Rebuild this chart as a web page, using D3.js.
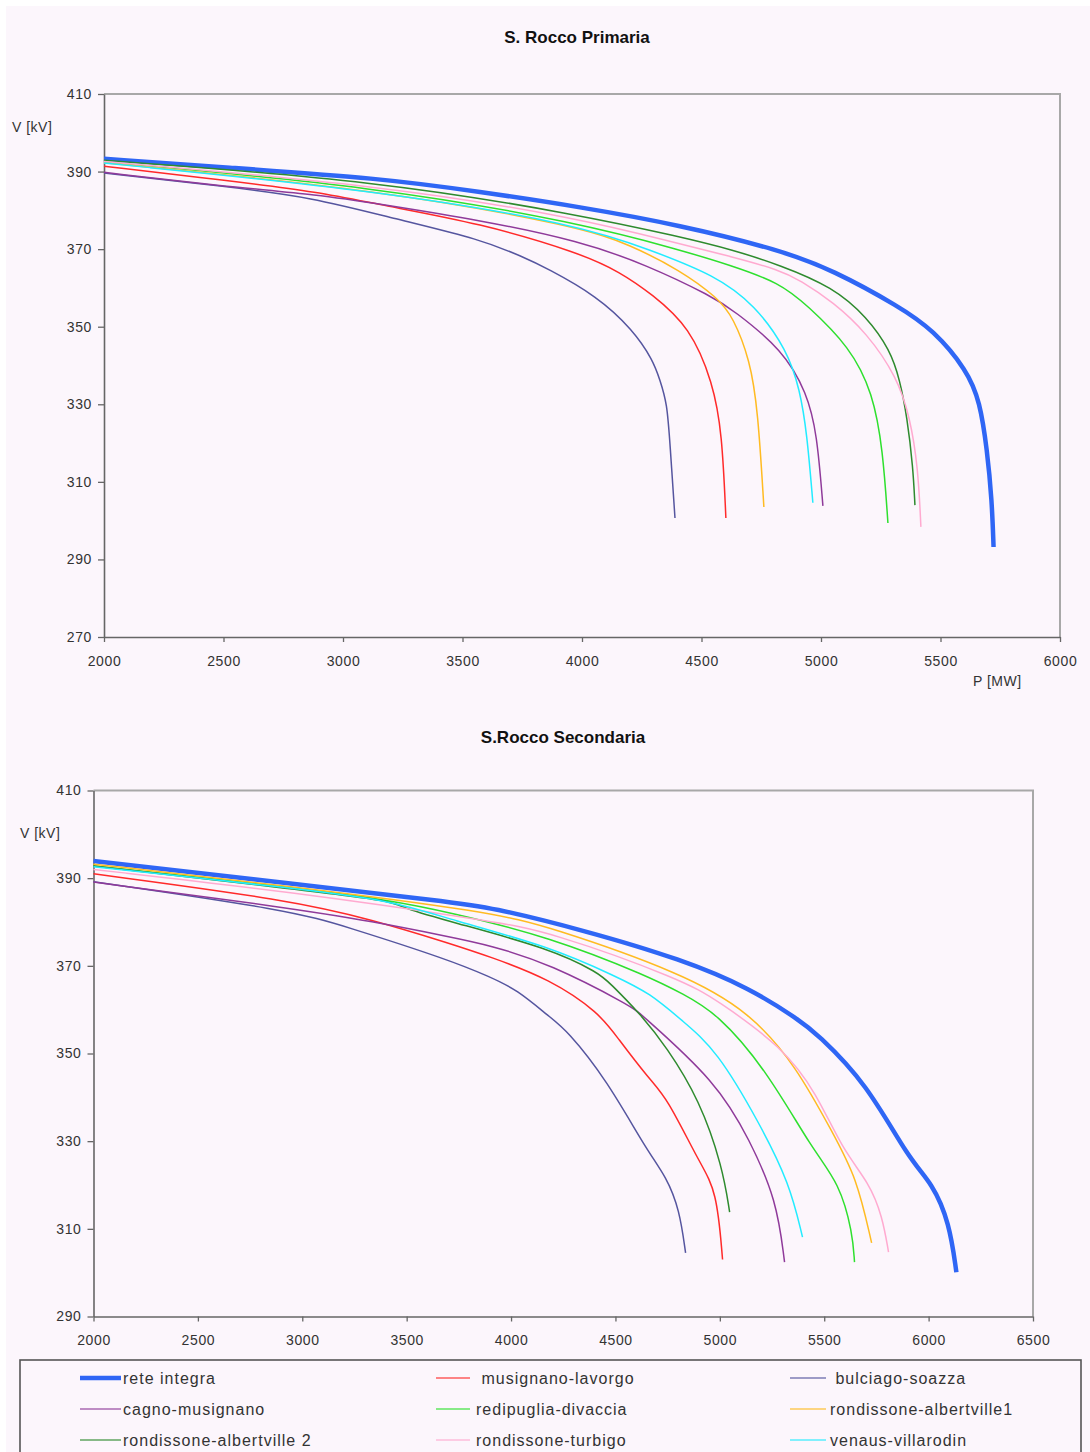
<!DOCTYPE html>
<html><head><meta charset="utf-8">
<script src="https://cdn.jsdelivr.net/npm/d3@7"></script>
<style>
html,body{margin:0;padding:0;background:#fff;}
svg{display:block;}
text{font-family:"Liberation Sans",Arial,sans-serif;}
</style></head><body>
<svg id="chart" width="1090" height="1452"></svg>
<script>
// ---------- DATA ----------
const seriesNames = ["rete integra", " musignano-lavorgo", " bulciago-soazza",
  "cagno-musignano", "redipuglia-divaccia", "rondissone-albertville1",
  "rondissone-albertville 2", "rondissone-turbigo", "venaus-villarodin"];

const xTicksPrimaria = [2000, 2500, 3000, 3500, 4000, 4500, 5000, 5500, 6000];
const yTicksPrimaria = [270, 290, 310, 330, 350, 370, 390, 410];
const xTicksSecondaria = [2000, 2500, 3000, 3500, 4000, 4500, 5000, 5500, 6000, 6500];
const yTicksSecondaria = [290, 310, 330, 350, 370, 390, 410];

// S. Rocco Primaria  [P (MW), V (kV)]
const prim_reteIntegra = [[2000,393.3],[2500,391.1],[3155,388.3],[3573,384.8],[3992,380.9],[4410,376.2],[4828,369.8],[5050,364.6],[5330,355.1],[5469,349.2],[5611,338.8],[5665,330.7],[5695,318.2],[5715,305.3],[5722,293.2]];
const prim_musignanoLavorgo = [[2000,391.4],[2500,387.8],[2904,384.7],[3155,381.4],[3573,376.7],[3992,369.0],[4159,364.1],[4293,358.4],[4452,349.9],[4548,335.5],[4586,322.6],[4602,300.7]];
const prim_bulciagoSoazza = [[2000,389.6],[2500,386.2],[2862,383.5],[3238,377.5],[3573,372.6],[3753,368.0],[3853,365.1],[4063,357.9],[4213,349.2],[4297,341.4],[4326,336.3],[4356,330.3],[4368,320.0],[4389,300.7]];
const prim_cagnoMusignano = [[2000,389.8],[2500,386.2],[2904,384.0],[3155,381.6],[3573,377.5],[3992,372.1],[4272,365.9],[4548,357.7],[4632,354.3],[4841,344.0],[4941,332.9],[4983,322.6],[5008,303.8]];
const prim_redipugliaDivaccia = [[2000,392.5],[3155,386.0],[3992,376.7],[4410,369.8],[4619,365.9],[4828,361.3],[4941,355.6],[5121,344.8],[5217,332.9],[5259,318.2],[5280,299.4]];
const prim_rondAlbertville1 = [[2000,392.3],[3155,385.3],[3992,375.8],[4201,371.1],[4410,364.6],[4569,357.4],[4632,352.5],[4703,341.4],[4736,328.5],[4761,303.5]];
const prim_rondAlbertville2 = [[2000,392.9],[3155,387.6],[3992,378.8],[4410,373.2],[4632,369.8],[4828,365.9],[5050,360.2],[5192,352.5],[5289,344.0],[5330,336.3],[5360,326.7],[5385,313.8],[5393,304.0]];
const prim_rondTurbigo = [[2000,392.6],[3155,386.5],[3992,378.0],[4410,371.3],[4619,368.2],[4828,364.6],[4912,362.0],[5050,356.4],[5192,348.4],[5318,337.0],[5372,326.7],[5406,313.8],[5418,298.4]];
const prim_venausVillarodin = [[2000,392.2],[3155,385.1],[3992,376.2],[4285,369.8],[4556,363.3],[4724,355.6],[4858,344.0],[4912,333.7],[4941,322.6],[4966,304.6]];

// S.Rocco Secondaria  [P (MW), V (kV)]
const sec_reteIntegra = [[2000,393.9],[2941,388.8],[3707,384.6],[3898,383.4],[4343,378.2],[4822,371.4],[5143,364.9],[5382,357.6],[5463,354.6],[5702,343.3],[5908,325.7],[6018,320.4],[6100,311.3],[6133,300.1]];
const sec_musignanoLavorgo = [[2000,391.0],[2941,385.0],[3338,380.5],[3707,375.1],[3898,372.1],[4185,367.0],[4424,359.2],[4506,353.8],[4664,344.0],[4745,340.1],[4903,325.0],[4985,318.9],[5013,303.0]];
const sec_bulciagoSoazza = [[2000,389.2],[2941,382.7],[3214,378.9],[3707,371.3],[3898,367.5],[4027,364.6],[4185,358.3],[4266,355.4],[4458,344.0],[4649,328.0],[4745,321.8],[4807,314.3],[4836,304.5]];
const sec_cagnoMusignano = [[2000,389.1],[2941,383.2],[3338,380.1],[3707,376.6],[3898,374.7],[4185,370.5],[4583,360.6],[4616,359.2],[4985,343.5],[5143,330.3],[5272,316.6],[5310,302.4]];
const sec_redipugliaDivaccia = [[2000,392.8],[2941,388.0],[3419,385.0],[3707,382.2],[4185,376.6],[4664,367.5],[4822,363.6],[4985,359.3],[5224,346.2],[5444,328.0],[5573,320.4],[5636,309.0],[5645,302.4]];
const sec_rondAlbertville1 = [[2000,393.2],[2941,388.2],[3898,382.3],[4185,378.9],[4822,368.3],[5143,359.5],[5368,347.0],[5540,331.9],[5655,321.8],[5727,306.8]];
const sec_rondAlbertville2 = [[2000,392.8],[2941,387.6],[3440,384.8],[3475,383.3],[3707,380.1],[4185,374.0],[4424,368.3],[4472,366.1],[4616,359.2],[4745,351.5],[4903,339.4],[5013,324.1],[5047,313.8]];
const sec_rondTurbigo = [[2000,392.0],[2941,386.9],[3898,380.3],[4185,377.8],[4822,366.8],[4985,362.2],[5300,351.5],[5463,341.0],[5588,328.0],[5717,320.4],[5779,312.7],[5808,304.7]];
const sec_venausVillarodin = [[2000,392.6],[2941,387.8],[3419,385.0],[3707,380.6],[4185,374.4],[4506,367.5],[4664,363.8],[4822,357.4],[4985,350.8],[5190,334.1],[5334,320.4],[5396,308.1]];

const primariaSeries = [prim_reteIntegra, prim_musignanoLavorgo, prim_bulciagoSoazza, prim_cagnoMusignano,
  prim_redipugliaDivaccia, prim_rondAlbertville1, prim_rondAlbertville2, prim_rondTurbigo, prim_venausVillarodin];
const secondariaSeries = [sec_reteIntegra, sec_musignanoLavorgo, sec_bulciagoSoazza, sec_cagnoMusignano,
  sec_redipugliaDivaccia, sec_rondAlbertville1, sec_rondAlbertville2, sec_rondTurbigo, sec_venausVillarodin];

// ---------- STYLE ----------
const seriesColors = ["#2f66f5", "#ff2a2a", "#55559f", "#8f3a9a", "#2ee02e", "#ffbb22", "#2e8a2e", "#ffaad0", "#22ecff"];
const seriesWidths = [4.5, 1.5, 1.5, 1.5, 1.5, 1.5, 1.5, 1.5, 1.5];
const bg = "#fcf6fc";

const svg = d3.select("#chart");
svg.append("rect").attr("x", 6).attr("y", 6).attr("width", 1084).attr("height", 1446).attr("fill", bg);

function drawChart(opts) {
  const { title, titleX, titleY, xDomain, yDomain, xRange, yRange, xTicks, yTicks, series, vLabel, pLabel } = opts;
  const x = d3.scaleLinear().domain(xDomain).range(xRange);
  const y = d3.scaleLinear().domain(yDomain).range(yRange);
  const g = svg.append("g");

  // top & right border
  g.append("path")
    .attr("d", `M${x(xDomain[0])},${y(yDomain[1])}H${x(xDomain[1])}V${y(yDomain[0])}`)
    .attr("fill", "none").attr("stroke", "#a8a8a8").attr("stroke-width", 2);

  // axes
  const ax = g.append("g").attr("transform", `translate(0,${y(yDomain[0])})`)
    .call(d3.axisBottom(x).tickValues(xTicks).tickFormat(d3.format("d")).tickSize(5).tickSizeOuter(0).tickPadding(14));
  const ay = g.append("g").attr("transform", `translate(${x(xDomain[0])},0)`)
    .call(d3.axisLeft(y).tickValues(yTicks).tickFormat(d3.format("d")).tickSize(6).tickSizeOuter(0).tickPadding(6));
  [ax, ay].forEach(a => {
    a.select(".domain").attr("stroke", "#666").attr("stroke-width", 1.6);
    a.selectAll(".tick line").attr("stroke", "#666").attr("stroke-width", 1.3);
    a.selectAll(".tick text").attr("fill", "#333").style("font-size", "14px").style("letter-spacing", "0.6px")
      .style("font-family", "'Liberation Sans', Arial, sans-serif");
  });

  // lines
  const line = d3.line().x(d => x(d[0])).y(d => y(d[1])).curve(d3.curveBasis);
  series.forEach((s, i) => {
    g.append("path").datum(s).attr("d", line)
      .attr("fill", "none").attr("stroke", seriesColors[i]).attr("stroke-width", seriesWidths[i])
      .attr("stroke-linejoin", "round").attr("stroke-linecap", "butt");
  });

  // titles & labels
  g.append("text").attr("x", titleX).attr("y", titleY).attr("text-anchor", "middle")
    .style("font-size", "17px").style("font-weight", "bold").attr("fill", "#111").text(title);
  g.append("text").attr("x", vLabel[0]).attr("y", vLabel[1]).style("font-size", "14px")
    .style("letter-spacing", "0.5px").attr("fill", "#333").text("V [kV]");
  if (pLabel) {
    g.append("text").attr("x", pLabel[0]).attr("y", pLabel[1]).style("font-size", "14px")
      .style("letter-spacing", "0.5px").attr("fill", "#333").text("P [MW]");
  }
}

drawChart({
  title: "S. Rocco Primaria", titleX: 577, titleY: 43,
  xDomain: [2000, 6000], yDomain: [270, 410], xRange: [104, 1060], yRange: [637, 94],
  xTicks: xTicksPrimaria, yTicks: yTicksPrimaria, series: primariaSeries,
  vLabel: [12, 132], pLabel: [973, 686]
});
drawChart({
  title: "S.Rocco Secondaria", titleX: 563, titleY: 743,
  xDomain: [2000, 6500], yDomain: [290, 410], xRange: [93.5, 1033], yRange: [1316.5, 790.5],
  xTicks: xTicksSecondaria, yTicks: yTicksSecondaria, series: secondariaSeries,
  vLabel: [20, 838], pLabel: null
});

// ---------- LEGEND ----------
const legend = svg.append("g");
legend.append("rect").attr("x", 20).attr("y", 1360).attr("width", 1061).attr("height", 130)
  .attr("fill", "none").attr("stroke", "#555").attr("stroke-width", 1.6);
const colLineX = [80, 436, 790];
const colLineW = [41, 34, 36];
const colTextX = [123, 476, 830];
const rowY = [1378, 1409, 1440];
seriesNames.forEach((name, i) => {
  const c = i % 3, r = Math.floor(i / 3);
  legend.append("line").attr("x1", colLineX[c]).attr("x2", colLineX[c] + colLineW[c])
    .attr("y1", rowY[r]).attr("y2", rowY[r])
    .attr("stroke", seriesColors[i]).attr("stroke-width", i === 0 ? 4.5 : 1.6).attr("opacity", i === 0 ? 1 : 0.75);
  legend.append("text").attr("x", colTextX[c]).attr("y", rowY[r] + 6)
    .style("font-size", "16px").style("letter-spacing", "1px").style("white-space", "pre")
    .attr("fill", "#333").text(name);
});
</script>
</body></html>
